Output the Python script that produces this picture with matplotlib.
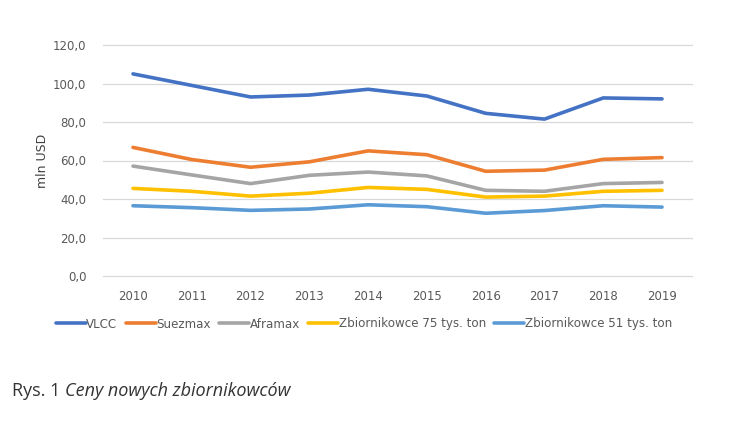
import matplotlib
matplotlib.use("Agg")
import matplotlib.pyplot as plt

years = [2010, 2011, 2012, 2013, 2014, 2015, 2016, 2017, 2018, 2019]
series_names = ["VLCC", "Suezmax", "Aframax", "Zbiornikowce 75 tys. ton", "Zbiornikowce 51 tys. ton"]
vlcc = [105.0, 99.0, 93.0, 94.0, 97.0, 93.5, 84.5, 81.5, 92.5, 92.0]
suezmax = [66.8, 60.5, 56.5, 59.3, 65.0, 63.0, 54.4, 55.0, 60.6, 61.5]
aframax = [57.1, 52.5, 48.0, 52.3, 54.0, 52.0, 44.5, 44.0, 48.0, 48.6]
zb75 = [45.5, 44.0, 41.5, 43.0, 46.0, 45.0, 41.0, 41.5, 44.0, 44.5]
zb51 = [36.5, 35.5, 34.1, 34.8, 37.0, 36.0, 32.6, 34.0, 36.5, 35.8]
yticks = [0, 20, 40, 60, 80, 100, 120]
ytick_labels = ["0,0", "20,0", "40,0", "60,0", "80,0", "100,0", "120,0"]
colors = ["#4472C4", "#ED7D31", "#A5A5A5", "#FFC000", "#5B9BD5"]

fig = plt.figure(figsize=(7.45, 4.25), dpi=100)
ax = fig.add_axes([103/745, 1-276/425, (692-103)/745, (276-45)/425])

x = list(range(len(years)))
handles = []
for vals, name, c in zip([vlcc, suezmax, aframax, zb75, zb51], series_names, colors):
    h, = ax.plot(x, vals, color=c, lw=2.6, solid_capstyle="round", label=name)
    handles.append(h)

ax.set_xlim(-0.51, len(years) - 0.49)
ax.set_ylim(0, 120)
ax.set_yticks(yticks)
ax.set_yticklabels(ytick_labels)
ax.set_xticks(x)
ax.set_xticklabels([str(y) for y in years])
ax.grid(axis="y", color="#D9D9D9", lw=0.9)
for gl in ax.get_ygridlines():
    gl.set_clip_on(False)
ax.set_axisbelow(True)
for s in ax.spines.values():
    s.set_visible(False)
ax.tick_params(axis="both", length=0, colors="#595959", labelsize=8.5)
ax.tick_params(axis="x", pad=10)
ax.tick_params(axis="y", pad=12)
ax.set_ylabel("mln USD", color="#404040", fontsize=9, labelpad=3)

leg = fig.legend(handles=handles, loc="center", bbox_to_anchor=(364/745, 1-324/425),
           ncol=5, frameon=False, fontsize=8.6, handlelength=2.5,
           handletextpad=0.05, columnspacing=0.7, labelcolor="#595959")

t1 = fig.text(12/745, 1-391/425, "Rys. 1", fontsize=13, color="#333333", va="center",
              family="Open Sans")
fig.canvas.draw()
bb = t1.get_window_extent()
fig.text((bb.x1 + 5) / 745, 1-391/425, "Ceny nowych zbiornikowców", fontsize=13,
         color="#333333", va="center", style="italic", family="Open Sans")

fig.savefig("out.png", dpi=100)
